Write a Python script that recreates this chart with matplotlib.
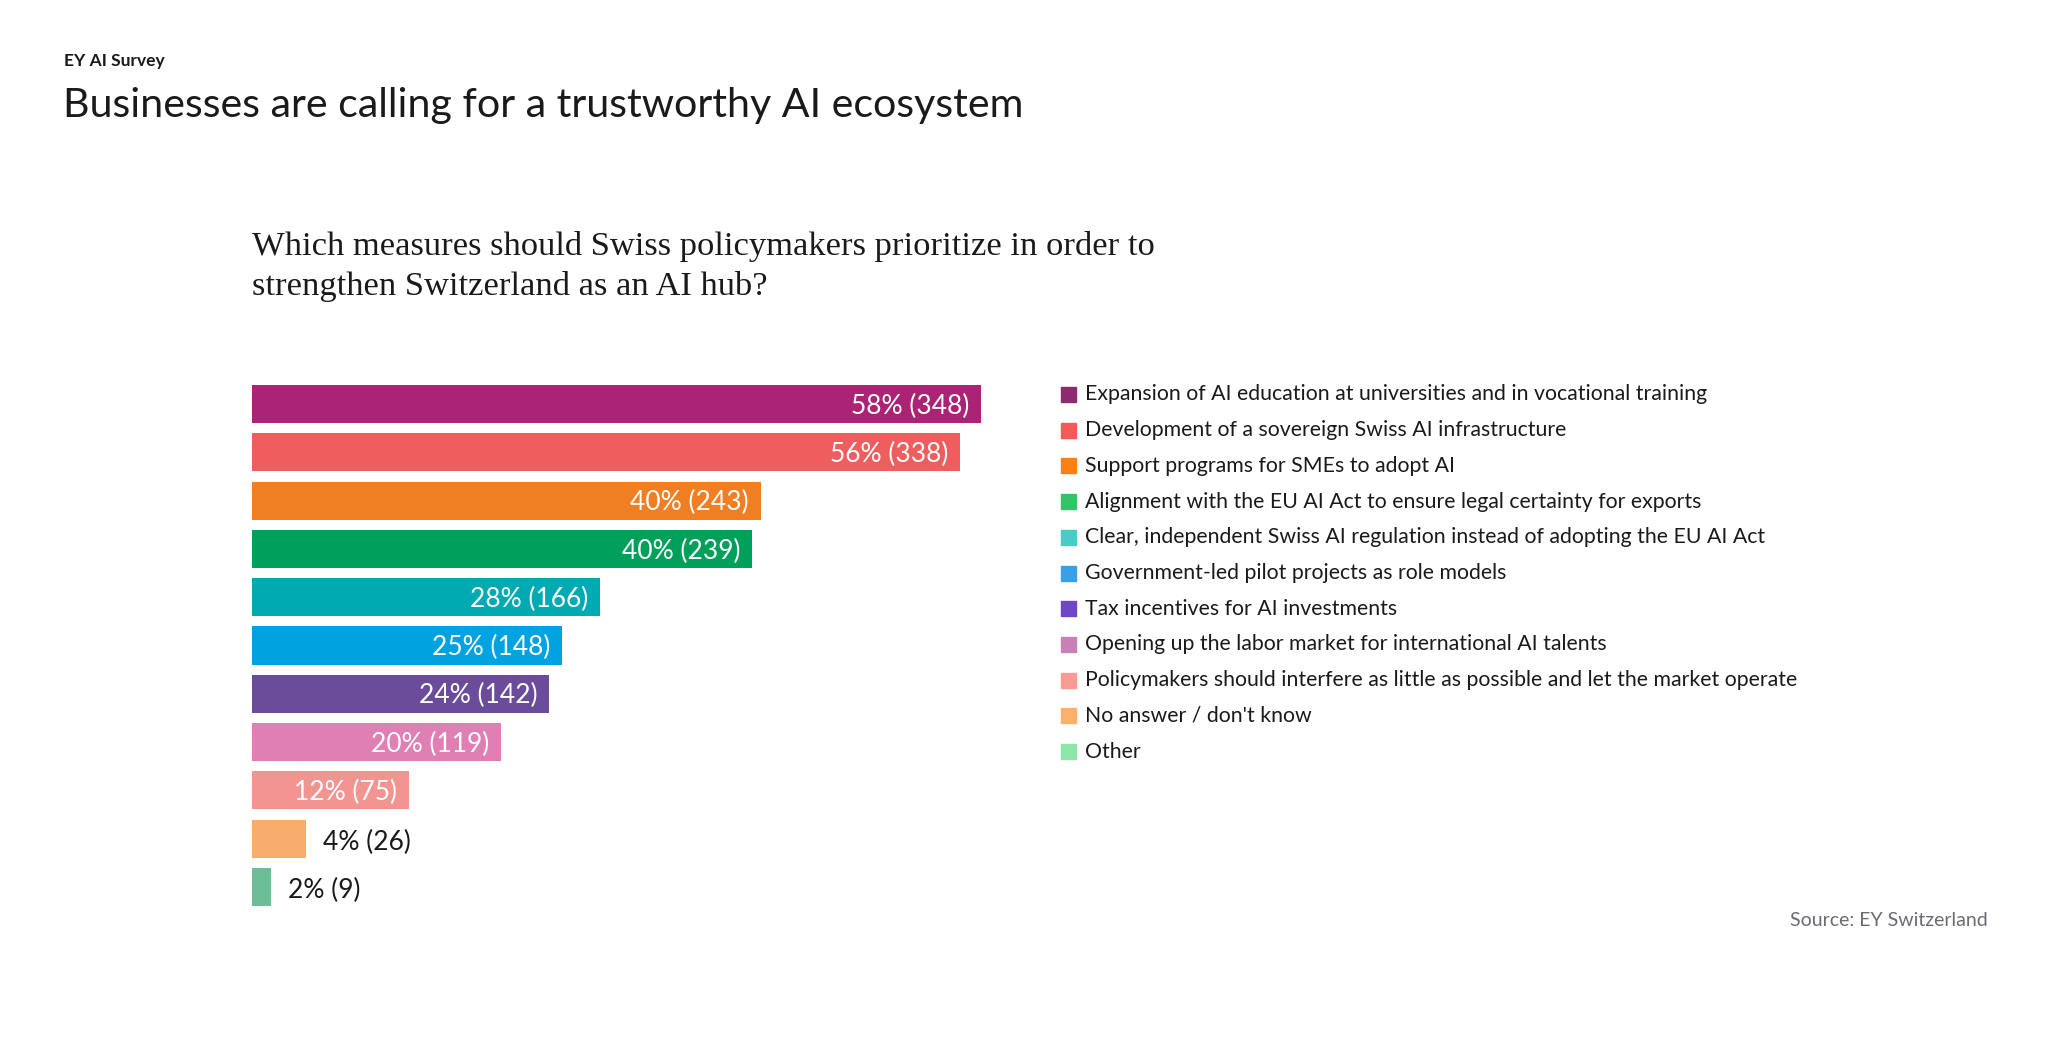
import matplotlib.pyplot as plt
from matplotlib.patches import Rectangle

# data
measures = [
    "Expansion of AI education at universities and in vocational training",
    "Development of a sovereign Swiss AI infrastructure",
    "Support programs for SMEs to adopt AI",
    "Alignment with the EU AI Act to ensure legal certainty for exports",
    "Clear, independent Swiss AI regulation instead of adopting the EU AI Act",
    "Government-led pilot projects as role models",
    "Tax incentives for AI investments",
    "Opening up the labor market for international AI talents",
    "Policymakers should interfere as little as possible and let the market operate",
    "No answer / don't know",
    "Other",
]
percents = [58, 56, 40, 40, 28, 25, 24, 20, 12, 4, 2]
counts = [348, 338, 243, 239, 166, 148, 142, 119, 75, 26, 9]

bar_colors = ["#AB2374", "#EE5E5E", "#F07E22", "#00A05B", "#00AAB3", "#00A2E0",
              "#6A4C9B", "#E07FB4", "#F29591", "#F7AD6D", "#6CBE97"]
legend_colors = ["#8E2A6E", "#F45B58", "#FF800E", "#33C466", "#48CCC7", "#3A9FE6",
                 "#7048C4", "#C880B6", "#FA9B94", "#FFB06A", "#8EE6A9"]

W, H = 2048, 1037
fig = plt.figure(figsize=(W / 100, H / 100), dpi=100)
fig.patch.set_facecolor("white")

sans = ["Lato", "DejaVu Sans"]


def fx(px):
    return px / W


def fy(py):
    return 1 - py / H


# header texts
fig.text(fx(64), fy(61), "EY AI Survey", family=sans, fontsize=12.5,
         fontweight="bold", color="#1a1a1a", va="center")
fig.text(fx(63), fy(117), "Businesses are calling for a trustworthy AI ecosystem",
         family=sans, fontsize=29.6, fontweight="normal", color="#1a1a1a",
         va="baseline")
fig.text(fx(252), fy(255), "Which measures should Swiss policymakers prioritize in order to",
         family=["Liberation Serif"], fontsize=24.8, color="#1a1a1a", va="baseline")
fig.text(fx(252), fy(295), "strengthen Switzerland as an AI hub?",
         family=["Liberation Serif"], fontsize=24.8, color="#1a1a1a", va="baseline")

# bars
ax_left, ax_top, ax_bottom, ax_w = 252, 380, 911, 800
ax = fig.add_axes([fx(ax_left), fy(ax_bottom), fx(ax_w), (ax_bottom - ax_top) / H])
y = list(range(len(counts)))
bars = ax.barh(y, counts, height=0.79, color=bar_colors)
ax.set_xlim(0, ax_w / 2.094)
ax.set_ylim(len(counts) - 0.5, -0.5)
ax.axis("off")

for yi, c, p in zip(y, counts, percents):
    label = f"{p}% ({c})"
    if c >= 50:
        ax.annotate(label, (c, yi), xytext=(-8.5, -1.5), textcoords="offset points",
                    ha="right", va="center", color="white", fontsize=19,
                    family=sans)
    else:
        ax.annotate(label, (c, yi), xytext=(12, -2.5), textcoords="offset points",
                    ha="left", va="center", color="#1a1a1a", fontsize=19,
                    family=sans)

# legend
leg_x, leg_y0, pitch, sq = 1061, 394.5, 35.7, 15
for i, (lab, col) in enumerate(zip(measures, legend_colors)):
    yc = leg_y0 + i * pitch
    fig.patches.append(Rectangle((fx(leg_x), fy(yc + sq / 2)), fx(sq), sq / H,
                                 transform=fig.transFigure, color=col))
    fig.text(fx(1085), fy(yc), lab, family=sans, fontsize=15.35, color="#1a1a1a",
             va="center")

fig.text(fx(1988), fy(921), "Source: EY Switzerland", family=sans, fontsize=14,
         color="#6b6b73", ha="right", va="center")

fig.savefig("out.png", dpi=100, facecolor="white")
